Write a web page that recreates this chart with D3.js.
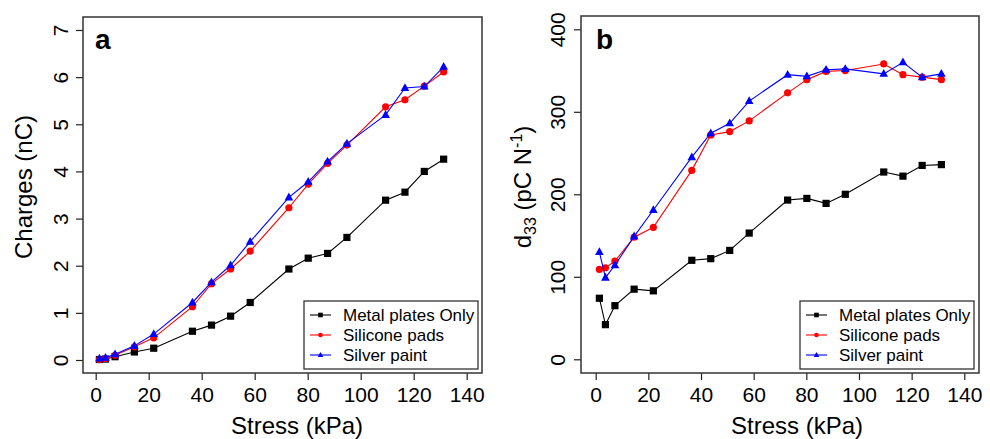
<!DOCTYPE html>
<html>
<head>
<meta charset="utf-8">
<script src="https://cdn.jsdelivr.net/npm/d3@7"></script>
<style>
  body { margin: 0; background: #fff; }
  svg { display: block; font-family: "Liberation Sans", Arial, sans-serif; }
</style>
</head>
<body>
<svg id="drawing_region" width="990" height="439"></svg>
<script>
// stress values (kPa), shared by both panels
const stress = [1.4, 3.7, 7.3, 14.6, 21.9, 36.5, 43.7, 50.9, 58.3, 72.9, 80.2, 87.5, 94.8, 109.4, 116.7, 124.0, 131.3];

// panel a : charges (nC)
const chargeMetal    = [0.01, 0.02, 0.07, 0.17, 0.25, 0.61, 0.74, 0.93, 1.22, 1.93, 2.16, 2.26, 2.60, 3.39, 3.56, 4.00, 4.26];
const chargeSilicone = [0.01, 0.03, 0.10, 0.28, 0.47, 1.13, 1.62, 1.93, 2.31, 3.23, 3.73, 4.17, 4.56, 5.37, 5.52, 5.81, 6.11];
const chargeSilver   = [0.03, 0.05, 0.12, 0.30, 0.55, 1.22, 1.65, 2.01, 2.51, 3.45, 3.78, 4.21, 4.59, 5.20, 5.77, 5.80, 6.22];

// panel b : d33 (pC/N)
const d33Metal    = [74, 42, 65, 85, 83, 120, 122, 132, 153, 193, 195, 189, 200, 227, 222, 235, 236];
const d33Silicone = [109, 111, 119, 148, 160, 229, 272, 276, 289, 323, 339, 349, 350, 358, 345, 342, 339];
const d33Silver   = [130, 99, 114, 149, 181, 245, 274, 286, 313, 345, 343, 351, 352, 346, 360, 342, 346];

const xTicks = [0, 20, 40, 60, 80, 100, 120, 140];
const yTicksA = [0, 1, 2, 3, 4, 5, 6, 7];
const yTicksB = [0, 100, 200, 300, 400];

const seriesNames = ["Metal plates Only", "Silicone pads", "Silver paint"];
const seriesColors = ["#000000", "#ff0000", "#0000ff"];
const seriesShapes = ["square", "circle", "triangle"];

class Panel {
    constructor(config, series) {
        this.config = config;
        this.series = series;
        this.svg = d3.select("#drawing_region");
        this.init();
    }
    init() {
        let self = this;
        const c = self.config;
        self.g = self.svg.append("g");

        self.xscale = d3.scaleLinear().domain([0, 140]).range([c.x0, c.x1]);
        self.yscale = d3.scaleLinear().domain(c.ydomain).range([c.y0, c.y1]);

        // x axis
        const xaxis = d3.axisBottom(self.xscale).tickValues(xTicks).tickFormat(d3.format("d"))
            .tickSize(7).tickSizeOuter(0).tickPadding(7);
        const xg = self.g.append("g")
            .attr("transform", `translate(0,${c.box.bottom})`)
            .call(xaxis);
        xg.select(".domain").remove();
        xg.selectAll("line").attr("stroke", "#222").attr("stroke-width", 1.2);
        xg.selectAll("text").attr("font-size", 21).attr("fill", "#000")
            .attr("font-family", "Liberation Sans, Arial, sans-serif");

        // y axis with rotated labels
        const yaxis = d3.axisLeft(self.yscale).tickValues(c.yticks).tickFormat(d3.format("d"))
            .tickSize(7).tickSizeOuter(0);
        const yg = self.g.append("g")
            .attr("transform", `translate(${c.box.left},0)`)
            .call(yaxis);
        yg.select(".domain").remove();
        yg.selectAll("line").attr("stroke", "#222").attr("stroke-width", 1.2);
        yg.selectAll("text")
            .attr("font-size", 21).attr("fill", "#000")
            .attr("font-family", "Liberation Sans, Arial, sans-serif")
            .attr("x", null).attr("dy", null)
            .attr("text-anchor", "middle")
            .attr("transform", `translate(${c.ylabelX - c.box.left},0) rotate(-90)`);

        // frame
        self.g.append("rect")
            .attr("x", c.box.left).attr("y", c.box.top)
            .attr("width", c.box.right - c.box.left)
            .attr("height", c.box.bottom - c.box.top)
            .attr("fill", "none").attr("stroke", "#333").attr("stroke-width", 1.5);

        // panel letter
        self.g.append("text")
            .attr("x", c.letterX).attr("y", 49)
            .attr("font-size", 28).attr("font-weight", "bold")
            .text(c.letter);

        // x title
        self.g.append("text")
            .attr("x", c.xtitleX)
            .attr("y", 434)
            .attr("text-anchor", "middle")
            .attr("font-size", 24)
            .text("Stress (kPa)");

        // y title
        const yt = self.g.append("text")
            .attr("transform", `translate(${c.ytitleX},${c.ytitleY}) rotate(-90)`)
            .attr("text-anchor", "middle")
            .attr("font-size", 24);
        c.ytitle(yt);
    }
    marker(sel, shape, color, s) {
        if (shape === "square") {
            sel.append("rect").attr("x", -s).attr("y", -s).attr("width", 2 * s).attr("height", 2 * s).attr("fill", color);
        } else if (shape === "circle") {
            sel.append("circle").attr("r", s).attr("fill", color);
        } else {
            const h = s * 1.2;
            sel.append("path")
                .attr("d", `M0,${-h * 1.1} L${h},${h * 0.7} L${-h},${h * 0.7} Z`)
                .attr("fill", color);
        }
    }
    render() {
        let self = this;
        const line = d3.line().x(d => self.xscale(d[0])).y(d => self.yscale(d[1]));
        self.series.forEach((vals, i) => {
            const pts = stress.map((x, j) => [x, vals[j]]);
            self.g.append("path")
                .attr("d", line(pts))
                .attr("fill", "none")
                .attr("stroke", seriesColors[i])
                .attr("stroke-width", 1.1);
            pts.forEach(p => {
                const m = self.g.append("g")
                    .attr("transform", `translate(${self.xscale(p[0])},${self.yscale(p[1])})`);
                self.marker(m, seriesShapes[i], seriesColors[i], 3.6);
            });
        });

        // legend
        const c = self.config;
        const lg = self.g.append("g");
        lg.append("rect")
            .attr("x", c.legend.x).attr("y", 301)
            .attr("width", c.legend.w).attr("height", 68)
            .attr("fill", "#fff").attr("stroke", "#333").attr("stroke-width", 1.3);
        seriesNames.forEach((name, i) => {
            const yy = 315 + i * 20;
            lg.append("line")
                .attr("x1", c.legend.x + 6).attr("x2", c.legend.x + 27)
                .attr("y1", yy).attr("y2", yy)
                .attr("stroke", seriesColors[i]).attr("stroke-width", 1.1);
            const m = lg.append("g").attr("transform", `translate(${c.legend.x + 16.5},${yy})`);
            self.marker(m, seriesShapes[i], seriesColors[i], 2.3);
            lg.append("text")
                .attr("x", c.legend.x + 39).attr("y", yy + 6)
                .attr("font-size", 17)
                .text(name);
        });
    }
}

const panelA = new Panel({
    box: { left: 83, right: 482, top: 17, bottom: 373 },
    x0: 95.7, x1: 466.7, y0: 360, y1: 30,
    ydomain: [0, 7], yticks: yTicksA, ylabelX: 68,
    letter: "a", letterX: 95,
    xtitleX: 297,
    ytitleX: 32, ytitleY: 187,
    ytitle: t => t.text("Charges (nC)"),
    legend: { x: 304, w: 174 }
}, [chargeMetal, chargeSilicone, chargeSilver]);
panelA.render();

const panelB = new Panel({
    box: { left: 581, right: 979, top: 16, bottom: 373 },
    x0: 595.7, x1: 964.3, y0: 359.3, y1: 29.3,
    ydomain: [0, 400], yticks: yTicksB, ylabelX: 565,
    letter: "b", letterX: 596,
    xtitleX: 797,
    ytitleX: 531, ytitleY: 187,
    ytitle: t => {
        t.append("tspan").text("d");
        t.append("tspan").attr("font-size", 16).attr("dy", 5).text("33");
        t.append("tspan").attr("dy", -5).text(" (pC N");
        t.append("tspan").attr("font-size", 16).attr("dy", -9).text("-1");
        t.append("tspan").attr("dy", 9).text(")");
    },
    legend: { x: 800, w: 174 }
}, [d33Metal, d33Silicone, d33Silver]);
panelB.render();
</script>
</body>
</html>
